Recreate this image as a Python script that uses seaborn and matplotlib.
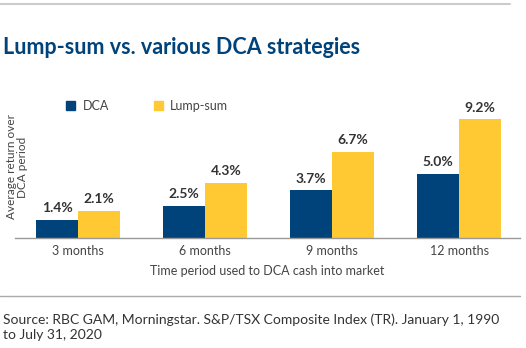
import matplotlib
matplotlib.use("Agg")
import matplotlib.pyplot as plt
import seaborn as sns
import pandas as pd
from matplotlib.patches import Patch
from matplotlib.lines import Line2D

periods = ["3 months", "6 months", "9 months", "12 months"]
dca = [1.4, 2.5, 3.7, 5.0]
lump = [2.1, 4.3, 6.7, 9.2]
series = ["DCA", "Lump-sum"]

df = pd.DataFrame({
    "period": periods * 2,
    "value": dca + lump,
    "strategy": [series[0]] * 4 + [series[1]] * 4,
})

sns.set_theme(style="white")
plt.rcParams["font.family"] = ["Lato", "DejaVu Sans"]

navy = "#00437A"
gold = "#FFC933"
W, H = 526, 348
fig = plt.figure(figsize=(W / 100, H / 100), dpi=100)
ax = fig.add_axes([15 / W, 1 - 238 / H, (520 - 15) / W, (238 - 109) / H])

sns.barplot(data=df, x="period", y="value", hue="strategy", order=periods,
            hue_order=series, palette=[navy, gold], width=0.66, linewidth=0,
            saturation=1, ax=ax, legend=False)

for c in ax.containers:
    ax.bar_label(c, labels=[f"{v:.1f}%" for v in c.datavalues], padding=4,
                 fontsize=10, fontweight="bold", color="#333333")

ax.set_xlim(-0.496, 3.48)
ax.set_ylim(0, 10)
ax.set_yticks([])
for s in ["top", "right", "left"]:
    ax.spines[s].set_visible(False)
ax.spines["bottom"].set_color("#999999")
ax.spines["bottom"].set_linewidth(1)
ax.tick_params(axis="x", length=0, pad=5, labelsize=9, labelcolor="#444444")
ax.set_xlabel("Time period used to DCA cash into market", fontsize=9,
              color="#444444", labelpad=6)
ax.set_ylabel("")

fig.text(17 / W, 1 - 167 / H, "Average return over\nDCA period", rotation=90,
         ha="center", va="center", fontsize=8.5, color="#444444",
         linespacing=1.1)

fig.text(3 / W, 1 - 47 / H, "Lump-sum vs. various DCA strategies",
         fontsize=15.5, fontweight="bold", color=navy, ha="left", va="center")

handles = [Patch(color=navy), Patch(color=gold)]
fig.legend(handles, series, loc="center left",
           bbox_to_anchor=(55 / W, 1 - 106 / H), ncol=2, frameon=False,
           handlelength=0.7, handleheight=0.7, handletextpad=0.6,
           columnspacing=3.6, fontsize=9, labelcolor="#444444")

fig.add_artist(Line2D([0, 510 / W], [1 - 4 / H, 1 - 4 / H], color="#cccccc",
                      lw=1.5, transform=fig.transFigure))
fig.add_artist(Line2D([0, 520 / W], [1 - 296 / H, 1 - 296 / H], color="#aaaaaa",
                      lw=1, transform=fig.transFigure))

fig.text(3 / W, 1 - 327 / H,
         "Source: RBC GAM, Morningstar. S&P/TSX Composite Index (TR). January 1, 1990\nto July 31, 2020",
         fontsize=10, color="#333333", ha="left", va="center", linespacing=1.3)

fig.savefig("out.png", dpi=100)
